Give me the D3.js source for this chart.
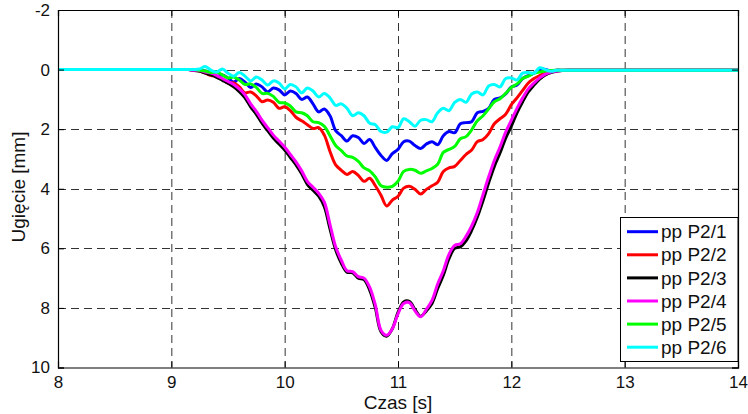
<!DOCTYPE html>
<html>
<head>
<meta charset="utf-8">
<script src="https://cdn.jsdelivr.net/npm/d3@7"></script>
<style>
  body { margin: 0; background: #fff; }
  svg { font-family: 'Liberation Sans', Arial, sans-serif; }
</style>
</head>
<body>
<div id="chart"></div>
<script>
const time = [
  8.0,
  9.0, 9.05, 9.1, 9.15, 9.2, 9.25, 9.3, 9.35, 9.4, 9.45, 9.5, 9.55, 9.6, 9.65, 9.7, 9.75, 9.8, 9.85, 9.9, 9.95,
  10.0, 10.05, 10.1, 10.15, 10.2, 10.25, 10.3, 10.35, 10.4, 10.45, 10.5, 10.55, 10.6, 10.65, 10.7, 10.75, 10.8, 10.85, 10.9, 10.95,
  11.0, 11.05, 11.1, 11.15, 11.2, 11.25, 11.3, 11.35, 11.4, 11.45, 11.5, 11.55, 11.6, 11.65, 11.7, 11.75, 11.8, 11.85, 11.9, 11.95,
  12.0, 12.05, 12.1, 12.15, 12.2, 12.25, 12.3, 12.35, 12.4, 12.45, 12.5, 12.55, 12.6,
  13.0, 14.0,
];

const p21 = [
  0,
  0, 0, 0, 0, 0, 0.02, 0.05, 0.12, 0.22, 0.18, 0.28, 0.42, 0.3, 0.42, 0.6, 0.48, 0.58, 0.75, 0.62, 0.68,
  0.85, 0.72, 0.8, 1.0, 0.92, 1.15, 1.42, 1.32, 1.55, 2.05, 2.22, 2.4, 2.22, 2.28, 2.48, 2.35, 2.62, 2.88, 3.05, 2.82,
  2.68, 2.42, 2.4, 2.55, 2.65, 2.5, 2.42, 2.52, 2.22, 2.08, 2.12, 1.82, 1.78, 1.75, 1.45, 1.4, 1.3, 1.0, 0.95, 0.82,
  0.58, 0.52, 0.3, 0.2, 0.12, -0.02, 0.0, 0.05, 0.02, 0.02, 0.02, 0.02, 0.02,
  0.02, 0.02,
];

const p22 = [
  0,
  0, 0, 0, 0, 0.02, 0.05, 0.12, 0.2, 0.22, 0.32, 0.45, 0.45, 0.58, 0.78, 0.75, 0.88, 1.08, 1.02, 1.1, 1.3,
  1.25, 1.38, 1.6, 1.72, 1.85, 1.98, 1.95, 2.2, 2.75, 3.2, 3.38, 3.52, 3.42, 3.55, 3.75, 3.65, 3.9, 4.22, 4.58, 4.38,
  4.25, 3.98, 3.92, 4.02, 4.18, 4.02, 3.9, 3.78, 3.42, 3.3, 3.25, 3.05, 2.85, 2.7, 2.42, 2.35, 2.15, 1.82, 1.65, 1.5,
  1.18, 0.95, 0.7, 0.45, 0.3, 0.2, 0.1, 0.05, 0.02, 0.02, 0.02, 0.02, 0.02,
  0.02, 0.02,
];

const p23 = [
  0,
  0, 0, 0, 0, 0.03, 0.05, 0.12, 0.18, 0.26, 0.36, 0.46, 0.58, 0.74, 0.95, 1.25, 1.5, 1.8, 2.05, 2.3, 2.5,
  2.7, 2.95, 3.2, 3.5, 3.85, 4.05, 4.25, 4.6, 5.35, 6.05, 6.5, 6.8, 6.82, 7.0, 7.05, 7.4, 8.0, 8.8, 8.95, 8.7,
  8.15, 7.8, 7.78, 8.05, 8.28, 8.1, 7.85, 7.35, 6.9, 6.35, 6.0, 5.95, 5.75, 5.4, 4.95, 4.4, 3.8, 3.25, 2.8, 2.3,
  1.9, 1.45, 1.08, 0.75, 0.52, 0.32, 0.18, 0.1, 0.06, 0.03, 0.02, 0.02, 0.02,
  0.02, 0.02,
];

const p24 = [
  0,
  0, 0, 0, 0, 0.02, 0.03, 0.08, 0.12, 0.2, 0.3, 0.4, 0.5, 0.65, 0.85, 1.15, 1.4, 1.7, 1.95, 2.2, 2.4,
  2.6, 2.85, 3.1, 3.4, 3.75, 3.95, 4.15, 4.45, 5.2, 5.95, 6.4, 6.75, 6.78, 6.95, 7.0, 7.3, 7.9, 8.75, 8.92, 8.7,
  8.2, 7.85, 7.82, 8.1, 8.3, 8.05, 7.75, 7.2, 6.75, 6.2, 5.9, 5.85, 5.6, 5.25, 4.8, 4.2, 3.6, 3.05, 2.6, 2.1,
  1.7, 1.3, 0.95, 0.65, 0.45, 0.28, 0.15, 0.08, 0.05, 0.03, 0.02, 0.02, 0.02,
  0.02, 0.02,
];

const p25 = [
  0,
  0, 0, 0, 0, 0, 0.02, 0.05, 0.1, 0.08, 0.18, 0.28, 0.25, 0.35, 0.5, 0.48, 0.6, 0.8, 0.8, 0.9, 1.1,
  1.12, 1.22, 1.42, 1.45, 1.55, 1.75, 1.78, 1.9, 2.22, 2.55, 2.72, 2.9, 2.95, 3.08, 3.3, 3.4, 3.6, 3.9, 3.95, 3.92,
  3.75, 3.42, 3.35, 3.38, 3.48, 3.4, 3.32, 3.18, 2.78, 2.68, 2.58, 2.32, 2.25, 2.02, 1.72, 1.55, 1.32, 1.08, 0.98, 0.8,
  0.6, 0.48, 0.3, 0.22, 0.12, 0.08, 0.05, 0.03, 0.02, 0.02, 0.02, 0.02, 0.02,
  0.02, 0.02,
];

const p26 = [
  0,
  0, 0, 0, 0, 0, -0.02, -0.1, 0.02, 0.08, -0.02, 0.12, 0.22, 0.1, 0.22, 0.38, 0.25, 0.35, 0.52, 0.38, 0.45,
  0.65, 0.5, 0.58, 0.78, 0.62, 0.72, 0.92, 0.8, 0.95, 1.2, 1.15, 1.3, 1.55, 1.45, 1.55, 1.8, 1.85, 2.08, 2.1, 1.92,
  1.95, 1.65, 1.75, 1.9, 1.7, 1.68, 1.75, 1.45, 1.3, 1.38, 1.1, 1.0, 1.1, 0.82, 0.75, 0.85, 0.55, 0.5, 0.58, 0.3,
  0.28, 0.35, 0.12, 0.1, 0.12, -0.06, 0.0, 0.06, 0.02, 0.02, 0.02, 0.02, 0.02,
  0.02, 0.02,
];

const seriesNames = ['pp P2/1', 'pp P2/2', 'pp P2/3', 'pp P2/4', 'pp P2/5', 'pp P2/6'];
const seriesValues = [p21, p22, p23, p24, p25, p26];
const seriesColors = ['#0000ff', '#ff0000', '#000000', '#ff00ff', '#00ff00', '#00ffff'];

const xTicks = [8, 9, 10, 11, 12, 13, 14];
const yTicks = [-2, 0, 2, 4, 6, 8, 10];

const W = 748;
const H = 414;
const m = { t: 10, r: 10, b: 46.5, l: 58 };

const svg = d3.select('#chart').append('svg').attr('width', W).attr('height', H);

const x = d3.scaleLinear().domain([8, 14]).range([m.l, W - m.r]);
const y = d3.scaleLinear().domain([-2, 10]).range([m.t, H - m.b]);

// grid
const grid = svg.append('g').attr('stroke', '#333').attr('stroke-width', 1).attr('stroke-dasharray', '8,5');
grid
  .selectAll('line.gx')
  .data(xTicks.slice(1, -1))
  .join('line')
  .attr('x1', (d) => x(d) + 0.5)
  .attr('x2', (d) => x(d) + 0.5)
  .attr('y1', y(-2))
  .attr('y2', y(10));
grid
  .selectAll('line.gy')
  .data(yTicks.slice(1, -1))
  .join('line')
  .attr('class', 'gy')
  .attr('x1', x(8))
  .attr('x2', x(14))
  .attr('y1', (d) => Math.round(y(d)) + 0.5)
  .attr('y2', (d) => Math.round(y(d)) + 0.5);

// data lines
const line = d3
  .line()
  .x((d, i) => x(time[i]))
  .y((d) => y(d))
  .curve(d3.curveCatmullRom.alpha(0.5));

svg
  .append('g')
  .attr('fill', 'none')
  .attr('stroke-width', 3)
  .attr('stroke-linejoin', 'round')
  .selectAll('path')
  .data(seriesValues)
  .join('path')
  .attr('stroke', (d, i) => seriesColors[i])
  .attr('d', line);

// axes box with inward ticks
const axisLeft = d3.axisLeft(y).tickValues(yTicks).tickSize(-6).tickPadding(8).tickFormat((d) => String(d));
const axisBottom = d3.axisBottom(x).tickValues(xTicks).tickSize(-6).tickPadding(8).tickFormat((d) => String(d));

const gl = svg.append('g').attr('transform', `translate(${m.l},0)`).call(axisLeft);
const gb = svg.append('g').attr('transform', `translate(0,${H - m.b})`).call(axisBottom);
svg.append('g').attr('transform', `translate(${W - m.r},0)`).call(d3.axisRight(y).tickValues(yTicks).tickSize(-6).tickFormat(''));
svg.append('g').attr('transform', `translate(0,${m.t})`).call(d3.axisTop(x).tickValues(xTicks).tickSize(-6).tickFormat(''));

svg.selectAll('.domain').attr('stroke', '#000').attr('stroke-width', 1.2);
svg.selectAll('.tick line').attr('stroke', '#000');
[gl, gb].forEach((g) => g.selectAll('text').attr('font-size', 17).attr('fill', '#111').attr('font-family', "'Liberation Sans', Arial, sans-serif"));

svg
  .append('text')
  .attr('x', 398)
  .attr('y', 409)
  .attr('text-anchor', 'middle')
  .attr('font-size', 19)
  .attr('fill', '#111')
  .text('Czas [s]');

svg
  .append('text')
  .attr('transform', 'translate(25,187) rotate(-90)')
  .attr('text-anchor', 'middle')
  .attr('font-size', 19)
  .attr('fill', '#111')
  .text('Ugięcie [mm]');

// legend
const lg = svg.append('g');
lg.append('rect')
  .attr('x', 620.5)
  .attr('y', 217.5)
  .attr('width', W - m.r - 620.5)
  .attr('height', 144)
  .attr('fill', '#fff')
  .attr('stroke', '#000')
  .attr('stroke-width', 1);

const rows = lg
  .selectAll('g.row')
  .data(seriesNames)
  .join('g')
  .attr('transform', (d, i) => `translate(0,${231.7 + i * 23.1})`);
rows
  .append('line')
  .attr('x1', 627)
  .attr('x2', 658)
  .attr('stroke', (d, i) => seriesColors[i])
  .attr('stroke-width', 3);
rows
  .append('text')
  .attr('x', 661)
  .attr('dy', '0.35em')
  .attr('font-size', 19)
  .attr('fill', '#111')
  .text((d) => d);
</script>
</body>
</html>
